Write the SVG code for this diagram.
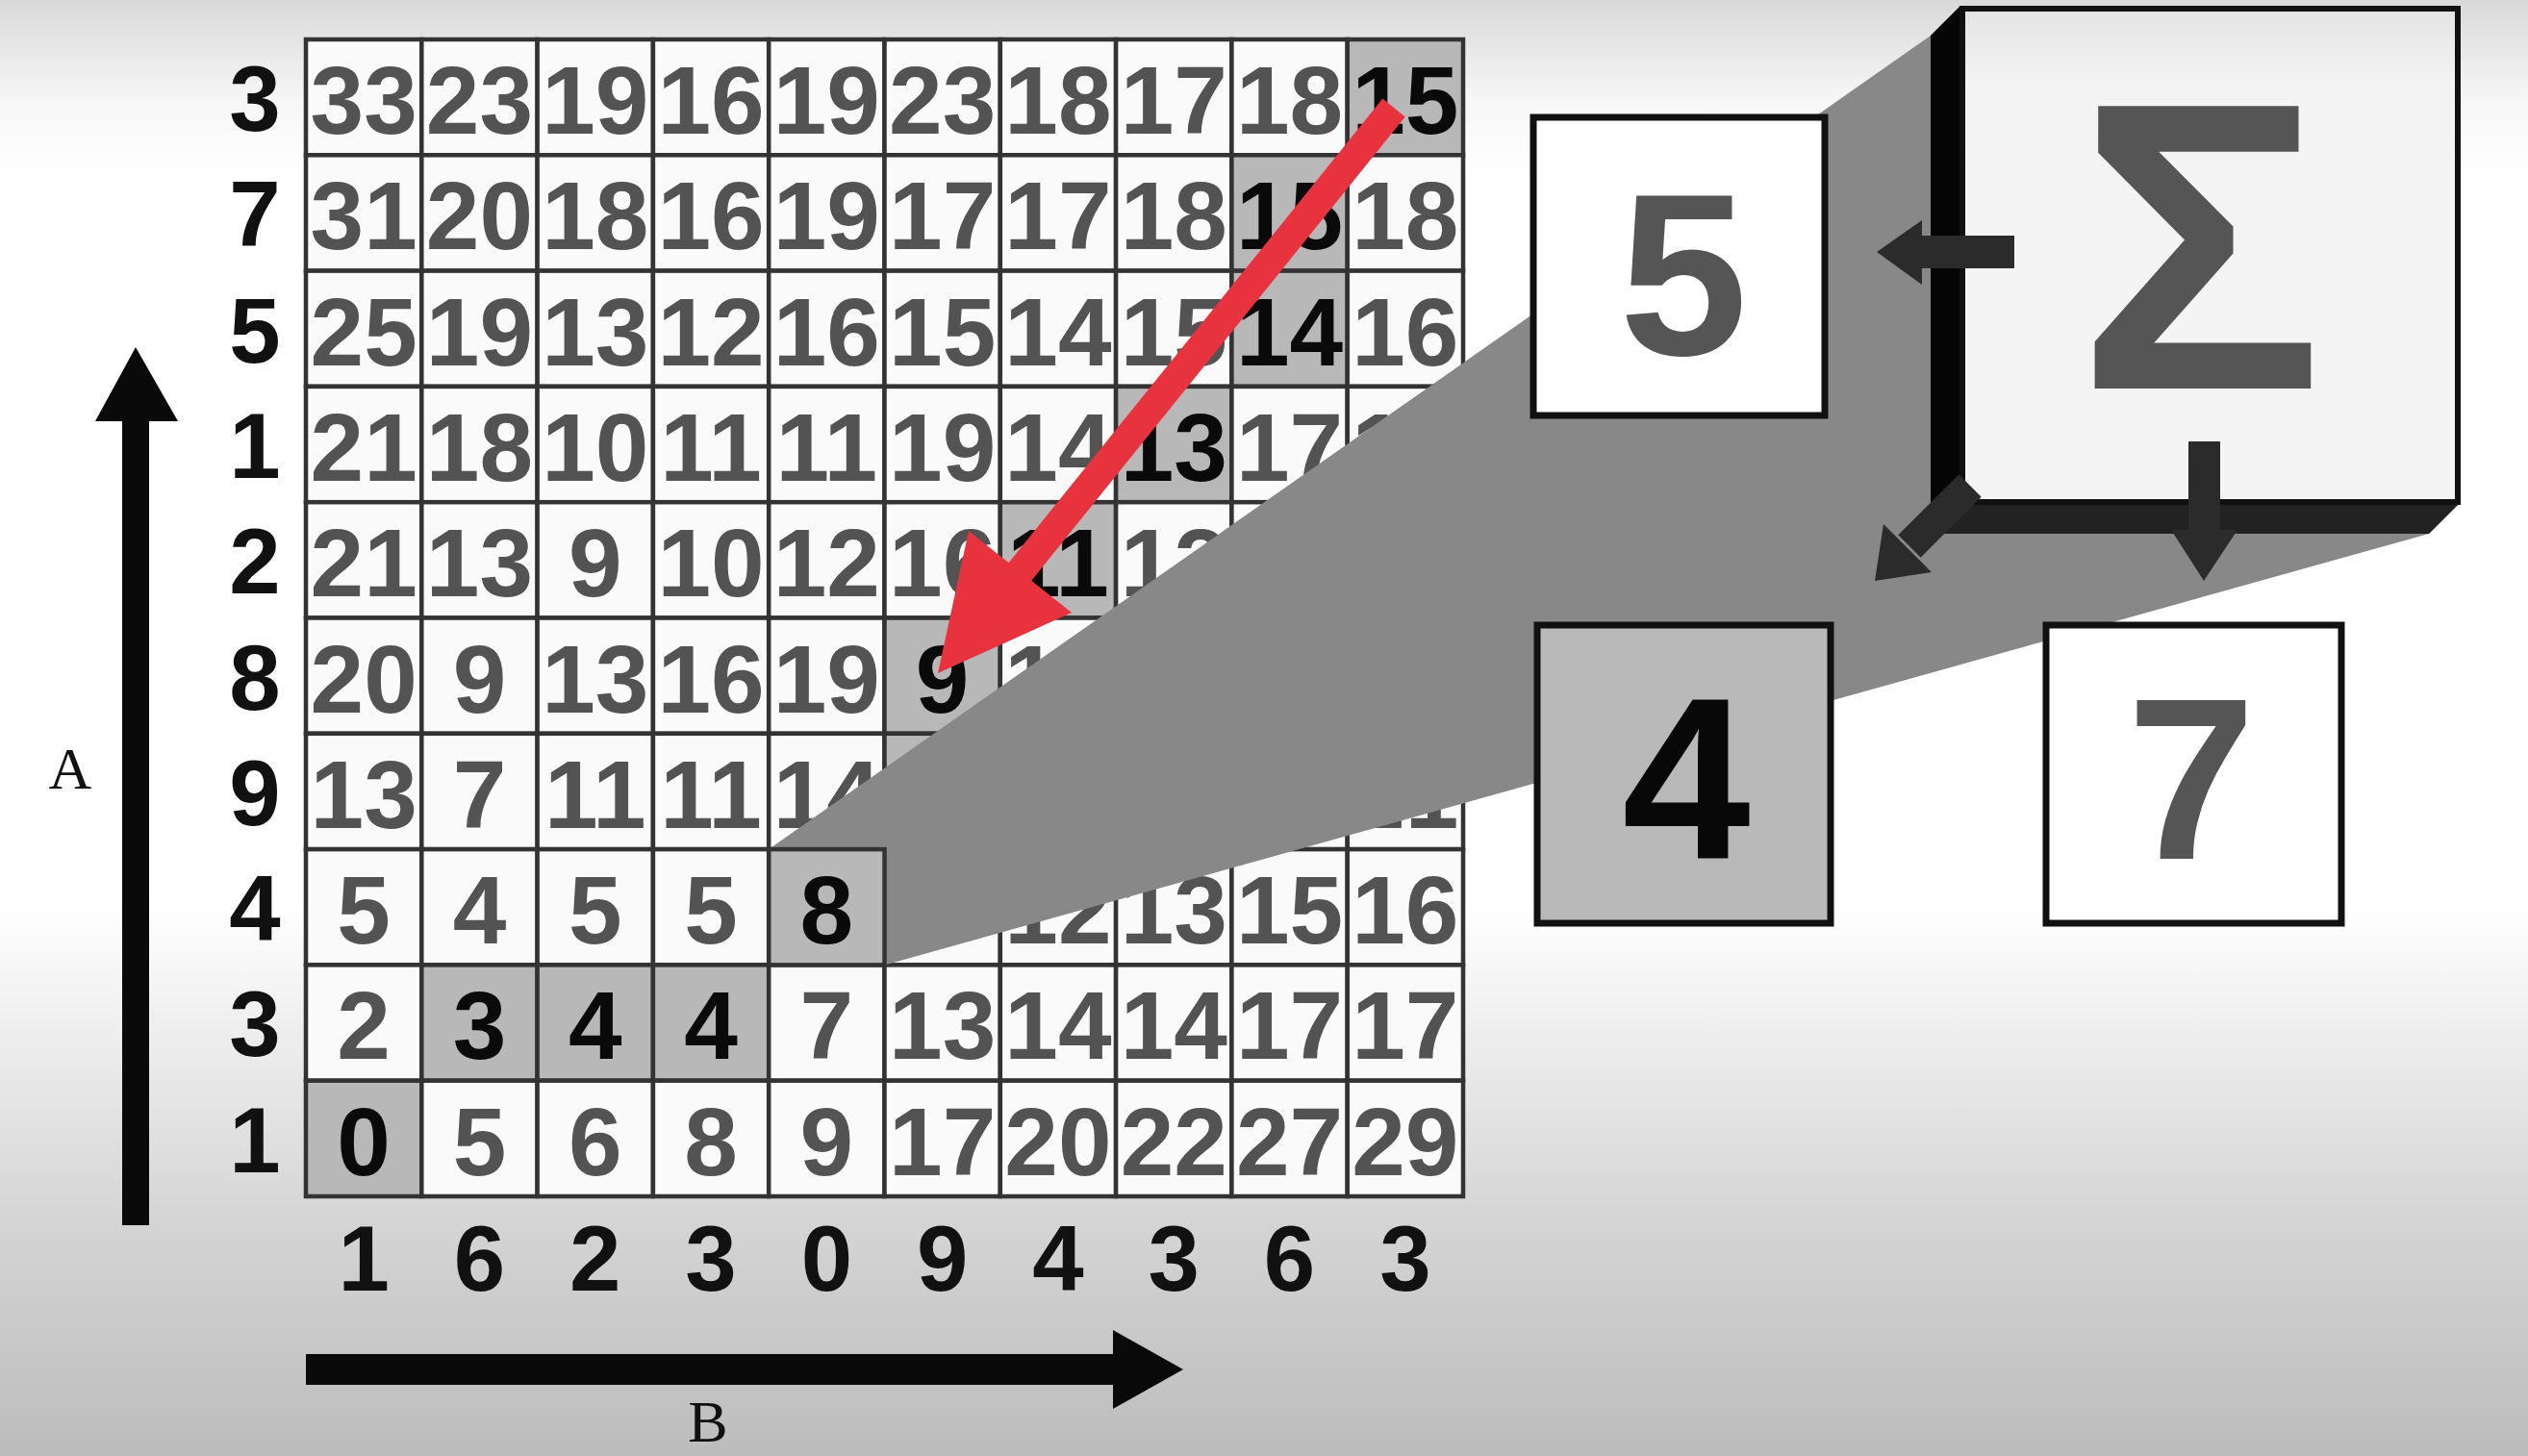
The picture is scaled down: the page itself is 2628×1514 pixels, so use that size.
<svg xmlns="http://www.w3.org/2000/svg" width="2628" height="1514" viewBox="0 0 2628 1514">
<defs>
<linearGradient id="bg" x1="0" y1="0" x2="0" y2="1">
<stop offset="0" stop-color="#d9d9d9"/>
<stop offset="0.07" stop-color="#f7f7f7"/>
<stop offset="0.12" stop-color="#ffffff"/>
<stop offset="0.62" stop-color="#ffffff"/>
<stop offset="0.75" stop-color="#e6e6e6"/>
<stop offset="0.83" stop-color="#d6d6d6"/>
<stop offset="1" stop-color="#bcbcbc"/>
</linearGradient>
<linearGradient id="face" x1="0" y1="0" x2="0" y2="1">
<stop offset="0" stop-color="#e4e4e4"/>
<stop offset="0.15" stop-color="#f3f3f3"/>
<stop offset="1" stop-color="#f4f4f4"/>
</linearGradient>
<style>
.c{fill:#fafafa;stroke:#333;stroke-width:4.5}
.h{fill:#b8b8b8;stroke:#333;stroke-width:4.5}
.v{font-family:"Liberation Sans",Arial,sans-serif;font-weight:bold;font-size:100px;fill:#535353;text-anchor:middle}
.vh{font-family:"Liberation Sans",Arial,sans-serif;font-weight:bold;font-size:100px;fill:#0a0a0a;text-anchor:middle}
.lab{font-family:"Liberation Sans",Arial,sans-serif;font-weight:bold;font-size:96px;fill:#111;text-anchor:middle}
.ax{font-family:"Liberation Serif","Times New Roman",serif;font-size:62px;fill:#111;text-anchor:middle}
.box{stroke:#111;stroke-width:7}
.big{font-family:"Liberation Sans",Arial,sans-serif;font-weight:bold;font-size:240px;text-anchor:middle}
.darr{fill:#2b2b2b}
</style>
</defs>
<rect x="0" y="0" width="2628" height="1514" fill="url(#bg)"/>

<g id="grid">
<g id="r0">
<rect class="c" x="318" y="41" width="120.3" height="120.3"/><text class="v" x="378.15" y="139">33</text>
<rect class="c" x="438.3" y="41" width="120.3" height="120.3"/><text class="v" x="498.45" y="139">23</text>
<rect class="c" x="558.6" y="41" width="120.3" height="120.3"/><text class="v" x="618.75" y="139">19</text>
<rect class="c" x="678.9" y="41" width="120.3" height="120.3"/><text class="v" x="739.05" y="139">16</text>
<rect class="c" x="799.2" y="41" width="120.3" height="120.3"/><text class="v" x="859.35" y="139">19</text>
<rect class="c" x="919.5" y="41" width="120.3" height="120.3"/><text class="v" x="979.65" y="139">23</text>
<rect class="c" x="1039.8" y="41" width="120.3" height="120.3"/><text class="v" x="1099.95" y="139">18</text>
<rect class="c" x="1160.1" y="41" width="120.3" height="120.3"/><text class="v" x="1220.25" y="139">17</text>
<rect class="c" x="1280.4" y="41" width="120.3" height="120.3"/><text class="v" x="1340.55" y="139">18</text>
<rect class="h" x="1400.7" y="41" width="120.3" height="120.3"/><text class="vh" x="1460.85" y="139">15</text>
</g>
<g id="r1">
<rect class="c" x="318" y="161.3" width="120.3" height="120.3"/><text class="v" x="378.15" y="259.3">31</text>
<rect class="c" x="438.3" y="161.3" width="120.3" height="120.3"/><text class="v" x="498.45" y="259.3">20</text>
<rect class="c" x="558.6" y="161.3" width="120.3" height="120.3"/><text class="v" x="618.75" y="259.3">18</text>
<rect class="c" x="678.9" y="161.3" width="120.3" height="120.3"/><text class="v" x="739.05" y="259.3">16</text>
<rect class="c" x="799.2" y="161.3" width="120.3" height="120.3"/><text class="v" x="859.35" y="259.3">19</text>
<rect class="c" x="919.5" y="161.3" width="120.3" height="120.3"/><text class="v" x="979.65" y="259.3">17</text>
<rect class="c" x="1039.8" y="161.3" width="120.3" height="120.3"/><text class="v" x="1099.95" y="259.3">17</text>
<rect class="c" x="1160.1" y="161.3" width="120.3" height="120.3"/><text class="v" x="1220.25" y="259.3">18</text>
<rect class="h" x="1280.4" y="161.3" width="120.3" height="120.3"/><text class="vh" x="1340.55" y="259.3">15</text>
<rect class="c" x="1400.7" y="161.3" width="120.3" height="120.3"/><text class="v" x="1460.85" y="259.3">18</text>
</g>
<g id="r2">
<rect class="c" x="318" y="281.6" width="120.3" height="120.3"/><text class="v" x="378.15" y="379.6">25</text>
<rect class="c" x="438.3" y="281.6" width="120.3" height="120.3"/><text class="v" x="498.45" y="379.6">19</text>
<rect class="c" x="558.6" y="281.6" width="120.3" height="120.3"/><text class="v" x="618.75" y="379.6">13</text>
<rect class="c" x="678.9" y="281.6" width="120.3" height="120.3"/><text class="v" x="739.05" y="379.6">12</text>
<rect class="c" x="799.2" y="281.6" width="120.3" height="120.3"/><text class="v" x="859.35" y="379.6">16</text>
<rect class="c" x="919.5" y="281.6" width="120.3" height="120.3"/><text class="v" x="979.65" y="379.6">15</text>
<rect class="c" x="1039.8" y="281.6" width="120.3" height="120.3"/><text class="v" x="1099.95" y="379.6">14</text>
<rect class="c" x="1160.1" y="281.6" width="120.3" height="120.3"/><text class="v" x="1220.25" y="379.6">15</text>
<rect class="h" x="1280.4" y="281.6" width="120.3" height="120.3"/><text class="vh" x="1340.55" y="379.6">14</text>
<rect class="c" x="1400.7" y="281.6" width="120.3" height="120.3"/><text class="v" x="1460.85" y="379.6">16</text>
</g>
<g id="r3">
<rect class="c" x="318" y="401.9" width="120.3" height="120.3"/><text class="v" x="378.15" y="499.9">21</text>
<rect class="c" x="438.3" y="401.9" width="120.3" height="120.3"/><text class="v" x="498.45" y="499.9">18</text>
<rect class="c" x="558.6" y="401.9" width="120.3" height="120.3"/><text class="v" x="618.75" y="499.9">10</text>
<rect class="c" x="678.9" y="401.9" width="120.3" height="120.3"/><text class="v" x="739.05" y="499.9">11</text>
<rect class="c" x="799.2" y="401.9" width="120.3" height="120.3"/><text class="v" x="859.35" y="499.9">11</text>
<rect class="c" x="919.5" y="401.9" width="120.3" height="120.3"/><text class="v" x="979.65" y="499.9">19</text>
<rect class="c" x="1039.8" y="401.9" width="120.3" height="120.3"/><text class="v" x="1099.95" y="499.9">14</text>
<rect class="h" x="1160.1" y="401.9" width="120.3" height="120.3"/><text class="vh" x="1220.25" y="499.9">13</text>
<rect class="c" x="1280.4" y="401.9" width="120.3" height="120.3"/><text class="v" x="1340.55" y="499.9">17</text>
<rect class="c" x="1400.7" y="401.9" width="120.3" height="120.3"/><text class="v" x="1460.85" y="499.9">18</text>
</g>
<g id="r4">
<rect class="c" x="318" y="522.2" width="120.3" height="120.3"/><text class="v" x="378.15" y="620.2">21</text>
<rect class="c" x="438.3" y="522.2" width="120.3" height="120.3"/><text class="v" x="498.45" y="620.2">13</text>
<rect class="c" x="558.6" y="522.2" width="120.3" height="120.3"/><text class="v" x="618.75" y="620.2">9</text>
<rect class="c" x="678.9" y="522.2" width="120.3" height="120.3"/><text class="v" x="739.05" y="620.2">10</text>
<rect class="c" x="799.2" y="522.2" width="120.3" height="120.3"/><text class="v" x="859.35" y="620.2">12</text>
<rect class="c" x="919.5" y="522.2" width="120.3" height="120.3"/><text class="v" x="979.65" y="620.2">16</text>
<rect class="h" x="1039.8" y="522.2" width="120.3" height="120.3"/><text class="vh" x="1099.95" y="620.2">11</text>
<rect class="c" x="1160.1" y="522.2" width="120.3" height="120.3"/><text class="v" x="1220.25" y="620.2">12</text>
<rect class="c" x="1280.4" y="522.2" width="120.3" height="120.3"/>
<rect class="c" x="1400.7" y="522.2" width="120.3" height="120.3"/>
</g>
<g id="r5">
<rect class="c" x="318" y="642.5" width="120.3" height="120.3"/><text class="v" x="378.15" y="740.5">20</text>
<rect class="c" x="438.3" y="642.5" width="120.3" height="120.3"/><text class="v" x="498.45" y="740.5">9</text>
<rect class="c" x="558.6" y="642.5" width="120.3" height="120.3"/><text class="v" x="618.75" y="740.5">13</text>
<rect class="c" x="678.9" y="642.5" width="120.3" height="120.3"/><text class="v" x="739.05" y="740.5">16</text>
<rect class="c" x="799.2" y="642.5" width="120.3" height="120.3"/><text class="v" x="859.35" y="740.5">19</text>
<rect class="h" x="919.5" y="642.5" width="120.3" height="120.3"/><text class="vh" x="979.65" y="740.5">9</text>
<rect class="c" x="1039.8" y="642.5" width="120.3" height="120.3"/><text class="v" x="1099.95" y="740.5">12</text>
<rect class="c" x="1160.1" y="642.5" width="120.3" height="120.3"/>
<rect class="c" x="1280.4" y="642.5" width="120.3" height="120.3"/>
<rect class="c" x="1400.7" y="642.5" width="120.3" height="120.3"/>
</g>
<g id="r6">
<rect class="c" x="318" y="762.8" width="120.3" height="120.3"/><text class="v" x="378.15" y="860.8">13</text>
<rect class="c" x="438.3" y="762.8" width="120.3" height="120.3"/><text class="v" x="498.45" y="860.8">7</text>
<rect class="c" x="558.6" y="762.8" width="120.3" height="120.3"/><text class="v" x="618.75" y="860.8">11</text>
<rect class="c" x="678.9" y="762.8" width="120.3" height="120.3"/><text class="v" x="739.05" y="860.8">11</text>
<rect class="c" x="799.2" y="762.8" width="120.3" height="120.3"/><text class="v" x="859.35" y="860.8">14</text>
<rect class="h" x="919.5" y="762.8" width="120.3" height="120.3"/>
<rect class="c" x="1039.8" y="762.8" width="120.3" height="120.3"/>
<rect class="c" x="1160.1" y="762.8" width="120.3" height="120.3"/>
<rect class="c" x="1280.4" y="762.8" width="120.3" height="120.3"/>
<rect class="c" x="1400.7" y="762.8" width="120.3" height="120.3"/><text class="v" x="1460.85" y="860.8">21</text>
</g>
<g id="r7">
<rect class="c" x="318" y="883.1" width="120.3" height="120.3"/><text class="v" x="378.15" y="981.1">5</text>
<rect class="c" x="438.3" y="883.1" width="120.3" height="120.3"/><text class="v" x="498.45" y="981.1">4</text>
<rect class="c" x="558.6" y="883.1" width="120.3" height="120.3"/><text class="v" x="618.75" y="981.1">5</text>
<rect class="c" x="678.9" y="883.1" width="120.3" height="120.3"/><text class="v" x="739.05" y="981.1">5</text>
<rect class="c" x="919.5" y="883.1" width="120.3" height="120.3"/>
<rect class="c" x="1039.8" y="883.1" width="120.3" height="120.3"/><text class="v" x="1099.95" y="981.1">12</text>
<rect class="c" x="1160.1" y="883.1" width="120.3" height="120.3"/><text class="v" x="1220.25" y="981.1">13</text>
<rect class="c" x="1280.4" y="883.1" width="120.3" height="120.3"/><text class="v" x="1340.55" y="981.1">15</text>
<rect class="c" x="1400.7" y="883.1" width="120.3" height="120.3"/><text class="v" x="1460.85" y="981.1">16</text>
</g>
<g id="r8">
<rect class="c" x="318" y="1003.4" width="120.3" height="120.3"/><text class="v" x="378.15" y="1101.4">2</text>
<rect class="h" x="438.3" y="1003.4" width="120.3" height="120.3"/><text class="vh" x="498.45" y="1101.4">3</text>
<rect class="h" x="558.6" y="1003.4" width="120.3" height="120.3"/><text class="vh" x="618.75" y="1101.4">4</text>
<rect class="h" x="678.9" y="1003.4" width="120.3" height="120.3"/><text class="vh" x="739.05" y="1101.4">4</text>
<rect class="c" x="799.2" y="1003.4" width="120.3" height="120.3"/><text class="v" x="859.35" y="1101.4">7</text>
<rect class="c" x="919.5" y="1003.4" width="120.3" height="120.3"/><text class="v" x="979.65" y="1101.4">13</text>
<rect class="c" x="1039.8" y="1003.4" width="120.3" height="120.3"/><text class="v" x="1099.95" y="1101.4">14</text>
<rect class="c" x="1160.1" y="1003.4" width="120.3" height="120.3"/><text class="v" x="1220.25" y="1101.4">14</text>
<rect class="c" x="1280.4" y="1003.4" width="120.3" height="120.3"/><text class="v" x="1340.55" y="1101.4">17</text>
<rect class="c" x="1400.7" y="1003.4" width="120.3" height="120.3"/><text class="v" x="1460.85" y="1101.4">17</text>
</g>
<g id="r9">
<rect class="h" x="318" y="1123.7" width="120.3" height="120.3"/><text class="vh" x="378.15" y="1221.7">0</text>
<rect class="c" x="438.3" y="1123.7" width="120.3" height="120.3"/><text class="v" x="498.45" y="1221.7">5</text>
<rect class="c" x="558.6" y="1123.7" width="120.3" height="120.3"/><text class="v" x="618.75" y="1221.7">6</text>
<rect class="c" x="678.9" y="1123.7" width="120.3" height="120.3"/><text class="v" x="739.05" y="1221.7">8</text>
<rect class="c" x="799.2" y="1123.7" width="120.3" height="120.3"/><text class="v" x="859.35" y="1221.7">9</text>
<rect class="c" x="919.5" y="1123.7" width="120.3" height="120.3"/><text class="v" x="979.65" y="1221.7">17</text>
<rect class="c" x="1039.8" y="1123.7" width="120.3" height="120.3"/><text class="v" x="1099.95" y="1221.7">20</text>
<rect class="c" x="1160.1" y="1123.7" width="120.3" height="120.3"/><text class="v" x="1220.25" y="1221.7">22</text>
<rect class="c" x="1280.4" y="1123.7" width="120.3" height="120.3"/><text class="v" x="1340.55" y="1221.7">27</text>
<rect class="c" x="1400.7" y="1123.7" width="120.3" height="120.3"/><text class="v" x="1460.85" y="1221.7">29</text>
</g>
</g>

<g id="projection">
<polygon points="799.2,883.1 2007,37 2038,6 2558,6 2558,522 2525,555 919.5,1003.4" fill="#888888"/>
</g>

<g id="cell-current">
<rect class="h" x="799.2" y="883.1" width="120.3" height="120.3"/><text class="vh" x="859.35" y="981.1">8</text>
</g>

<g id="row-labels">
<text class="lab" x="265" y="136">3</text>
<text class="lab" x="265" y="256.3">7</text>
<text class="lab" x="265" y="376.6">5</text>
<text class="lab" x="265" y="496.9">1</text>
<text class="lab" x="265" y="617.2">2</text>
<text class="lab" x="265" y="737.5">8</text>
<text class="lab" x="265" y="857.8">9</text>
<text class="lab" x="265" y="978.1">4</text>
<text class="lab" x="265" y="1098.4">3</text>
<text class="lab" x="265" y="1218.7">1</text>
</g>
<g id="col-labels">
<text class="lab" x="378.15" y="1342">1</text>
<text class="lab" x="498.45" y="1342">6</text>
<text class="lab" x="618.75" y="1342">2</text>
<text class="lab" x="739.05" y="1342">3</text>
<text class="lab" x="859.35" y="1342">0</text>
<text class="lab" x="979.65" y="1342">9</text>
<text class="lab" x="1099.95" y="1342">4</text>
<text class="lab" x="1220.25" y="1342">3</text>
<text class="lab" x="1340.55" y="1342">6</text>
<text class="lab" x="1460.85" y="1342">3</text>
</g>

<g id="axis-a">
<rect x="127" y="430" width="28" height="844" fill="#0a0a0a"/>
<polygon points="141,361 185,438 99,438" fill="#0a0a0a"/>
<text class="ax" x="73" y="820">A</text>
</g>
<g id="axis-b">
<rect x="318" y="1408" width="845" height="32" fill="#0a0a0a"/>
<polygon points="1230,1424 1157,1383 1157,1465" fill="#0a0a0a"/>
<text class="ax" x="736" y="1499">B</text>
</g>

<g id="connectors">
<line x1="1449" y1="112" x2="1052" y2="605" stroke="#e8333e" stroke-width="30"/>
<polygon points="975,700 1007,552 1114,637" fill="#e8333e"/>
</g>

<g id="sum-box">
<polygon points="2038,6 2007,37 2007,555 2038,522" fill="#050505"/>
<polygon points="2038,522 2558,522 2525,555 2007,555" fill="#222"/>
<rect x="2040" y="9" width="515" height="513" fill="url(#face)" stroke="#111" stroke-width="6"/>
<text x="2287" y="404" font-family="'Liberation Sans',Arial,sans-serif" font-weight="bold" font-size="427" fill="#555" text-anchor="middle">Σ</text>
<g class="darr">
<rect x="1994" y="245" width="100" height="34"/>
<polygon points="1951,262 1998,229 1998,296"/>
<rect x="2275" y="459" width="33" height="95"/>
<polygon points="2257,551 2326,551 2291,604"/>
<line x1="2048" y1="505" x2="1985" y2="568" stroke="#2b2b2b" stroke-width="33"/>
<polygon points="1949,604 1958,545 2008,595"/>
</g>
</g>

<g id="node-5">
<rect class="box" x="1594" y="122" width="303" height="310" fill="#ffffff"/>
<text class="big" x="1750" y="369" fill="#555">5</text>
</g>
<g id="node-4">
<rect class="box" x="1598" y="650" width="305" height="310" fill="#b9b9b9"/>
<text class="big" x="1753" y="893" fill="#080808">4</text>
</g>
<g id="node-7">
<rect class="box" x="2127" y="650" width="307" height="310" fill="#ffffff"/>
<text class="big" x="2278" y="893" fill="#555">7</text>
</g>
</svg>
